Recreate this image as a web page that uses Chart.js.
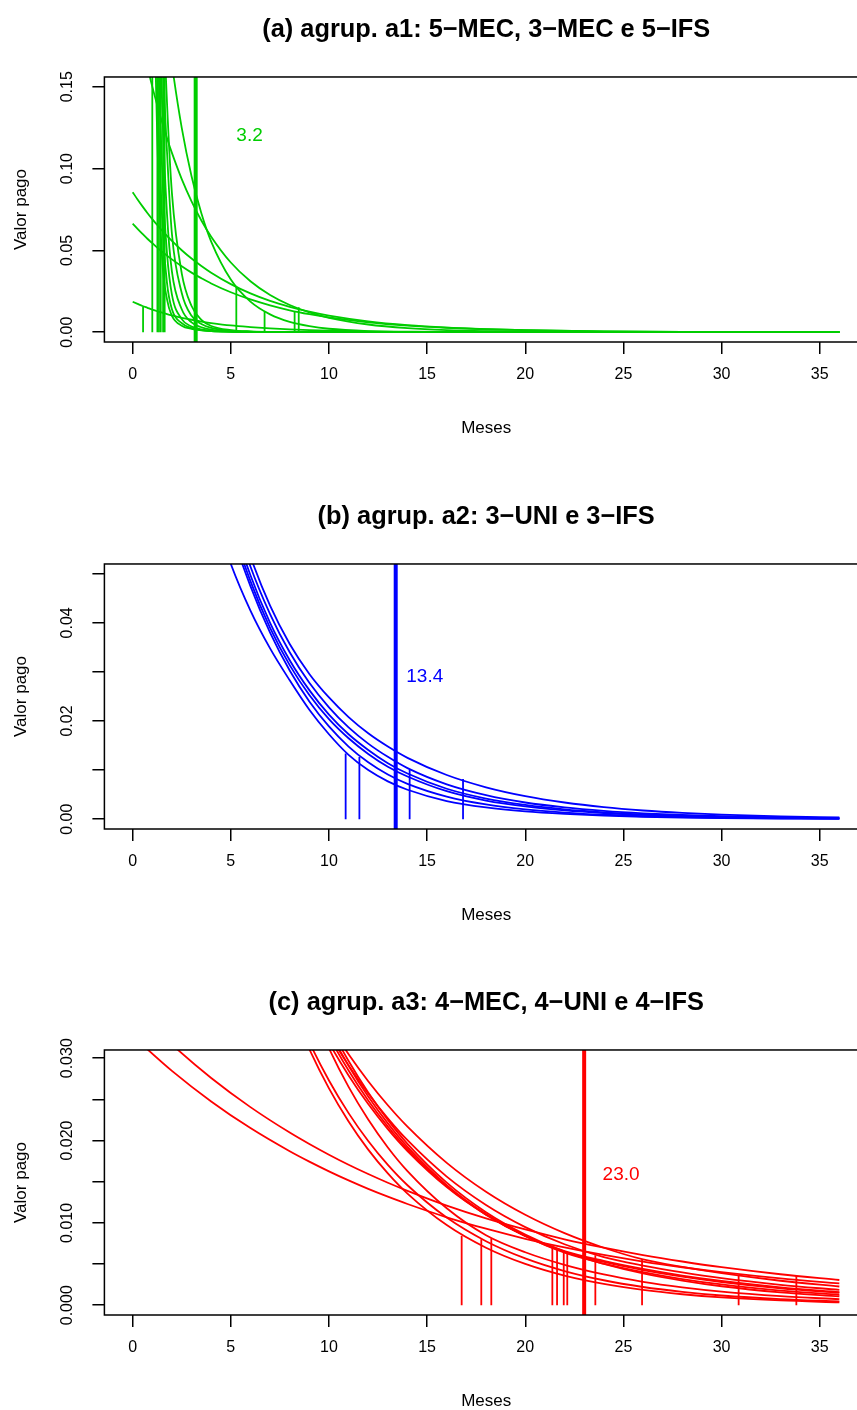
<!DOCTYPE html>
<html>
<head>
<meta charset="utf-8">
<script src="https://cdn.jsdelivr.net/npm/chart.js@4.4.1/dist/chart.umd.min.js"></script>
<style>
  html, body { margin: 0; padding: 0; background: #fff; }
  body { width: 857px; height: 1410px; overflow: hidden; position: relative; }
  .painel { position: absolute; left: 0; width: 868px; height: 440px; }
</style>
</head>
<body>
<div class="painel" style="top:0px"><canvas id="graf-a" width="868" height="440"></canvas></div>
<div class="painel" style="top:487px"><canvas id="graf-b" width="868" height="440"></canvas></div>
<div class="painel" style="top:973px"><canvas id="graf-c" width="868" height="440"></canvas></div>
<script>
// eixo x comum
const xTicks = [0, 5, 10, 15, 20, 25, 30, 35];

// (a) agrup. a1 - verde
const mesesA = [0, 0.25, 0.5, 0.75, 1, 1.25, 1.5, 1.75, 2, 2.5, 3, 3.5, 4, 5, 6, 7, 8, 9, 10, 12, 14, 16, 18, 20, 24, 28, 32, 36];
const curvasA = [
  [0.0856, 0.0811, 0.0769, 0.0729, 0.0691, 0.0655, 0.0621, 0.0589, 0.0558, 0.0501, 0.0450, 0.0405, 0.0364, 0.0294, 0.0237, 0.0191, 0.0155, 0.0125, 0.0101, 0.0066, 0.0043, 0.0028, 0.0018, 0.0012, 0.0005, 0.0002, 0.0001, 0.00005],
  [0.0664, 0.0632, 0.0601, 0.0571, 0.0544, 0.0517, 0.0492, 0.0468, 0.0445, 0.0403, 0.0364, 0.0330, 0.0298, 0.0244, 0.0200, 0.0164, 0.0134, 0.0110, 0.0090, 0.0060, 0.0040, 0.0027, 0.0018, 0.0012, 0.0005, 0.0002, 0.0001, 0.00005],
  [0.0186, 0.0173, 0.0160, 0.0149, 0.0138, 0.0128, 0.0119, 0.0110, 0.0102, 0.0088, 0.0076, 0.0065, 0.0056, 0.0041, 0.0031, 0.0023, 0.0017, 0.0012, 0.0009, 0.0005, 0.0003, 0.00015, 0.0001, 0.00005, 0, 0, 0, 0],
  [null, null, null, null, null, 0.246, 0.2148, 0.1876, 0.1638, 0.1249, 0.0953, 0.0727, 0.0554, 0.0322, 0.0187, 0.0109, 0.0063, 0.0037, 0.0021, 0.0007, 0.0002, 0.0001, 0, 0, 0, 0, 0, 0],
  [null, 0.19, 0.1757, 0.1624, 0.1501, 0.1388, 0.1283, 0.1186, 0.1096, 0.0936, 0.0800, 0.0683, 0.0584, 0.0426, 0.0311, 0.0227, 0.0166, 0.0121, 0.0088, 0.0047, 0.0025, 0.0013, 0.0007, 0.0004, 0.0001, 0, 0, 0],
  [null, null, null, null, 0.25, 0.12, 0.045, 0.02, 0.01, 0.004, 0.002, 0.0011, 0.0006, 0.0002, 0.0001, 0, 0, 0, 0, 0, 0, 0, 0, 0, 0, 0, 0, 0],
  [null, null, null, null, 0.35, 0.156, 0.07, 0.03, 0.014, 0.0055, 0.0025, 0.0013, 0.0007, 0.0003, 0.0001, 0, 0, 0, 0, 0, 0, 0, 0, 0, 0, 0, 0, 0],
  [null, null, null, null, 0.4, 0.2, 0.1, 0.048, 0.023, 0.008, 0.0035, 0.0017, 0.0009, 0.0003, 0.0001, 0, 0, 0, 0, 0, 0, 0, 0, 0, 0, 0, 0, 0],
  [null, null, null, null, 0.45, 0.25, 0.14, 0.072, 0.037, 0.014, 0.006, 0.003, 0.0015, 0.0005, 0.0002, 0.0001, 0, 0, 0, 0, 0, 0, 0, 0, 0, 0, 0, 0],
  [null, null, null, null, 0.5, 0.3, 0.18, 0.11, 0.06, 0.024, 0.01, 0.005, 0.0027, 0.001, 0.0004, 0.0002, 0.0001, 0, 0, 0, 0, 0, 0, 0, 0, 0, 0, 0],
  [null, null, null, null, null, 0.35, 0.22, 0.14, 0.085, 0.036, 0.016, 0.0075, 0.0038, 0.0013, 0.0005, 0.0002, 0.0001, 0, 0, 0, 0, 0, 0, 0, 0, 0, 0, 0]
];
const mediasA = [0.53, 1.0, 1.26, 1.34, 1.43, 1.55, 1.63, 5.28, 6.72, 8.25, 8.46];
const alturasA = [0.0155, 0.3, 0.3, 0.3, 0.3, 0.3, 0.3, 0.0277, 0.0125, 0.0128, 0.0153];
const mediaGeralA = 3.21;
const yTicksA = [0, 0.05, 0.10, 0.15];
const yRotulosA = ['0.00', '0.05', '0.10', '0.15'];

// (b) agrup. a2 - azul
const mesesB = [4, 5, 6, 7, 8, 9, 10, 11, 12, 13, 14, 16, 18, 20, 22, 24, 26, 28, 30, 33, 36];
const curvasB = [
  [0.082, 0.066, 0.0535, 0.0435, 0.0357, 0.0296, 0.0248, 0.0208, 0.0175, 0.0148, 0.0125, 0.0090, 0.0065, 0.0047, 0.0034, 0.00245, 0.00177, 0.00128, 0.00093, 0.00057, 0.00035],
  [0.079, 0.064, 0.0515, 0.0418, 0.0340, 0.0278, 0.0228, 0.0187, 0.0154, 0.0127, 0.0104, 0.0071, 0.0049, 0.0034, 0.0024, 0.0017, 0.0012, 0.00085, 0.0006, 0.00036, 0.00022],
  [0.078, 0.062, 0.0497, 0.0400, 0.0324, 0.0263, 0.0213, 0.0173, 0.0141, 0.0114, 0.0093, 0.0062, 0.0042, 0.0029, 0.0020, 0.0014, 0.00095, 0.00066, 0.00046, 0.00027, 0.00016],
  [0.077, 0.0605, 0.0485, 0.0390, 0.0314, 0.0253, 0.0204, 0.0165, 0.0133, 0.0107, 0.0087, 0.0057, 0.0038, 0.0026, 0.0018, 0.00125, 0.00086, 0.0006, 0.00042, 0.00025, 0.00015],
  [0.074, 0.059, 0.0475, 0.0380, 0.0303, 0.0240, 0.0189, 0.0148, 0.0116, 0.0091, 0.0072, 0.0046, 0.0030, 0.0020, 0.00135, 0.0009, 0.0006, 0.0004, 0.00027, 0.00016, 0.0001],
  [0.064, 0.052, 0.0425, 0.0348, 0.0283, 0.0223, 0.0173, 0.0131, 0.0100, 0.0077, 0.0060, 0.0037, 0.0024, 0.0016, 0.0011, 0.00075, 0.0005, 0.00034, 0.00023, 0.00013, 0.00008]
];
const mediasB = [10.85, 11.55, 13.4, 14.11, 16.83];
const alturasB = [0.01337, 0.01268, 0.0103, 0.0101, 0.00818];
const mediaGeralB = 13.4;
const yTicksB = [0, 0.01, 0.02, 0.03, 0.04, 0.05];
const yRotulosB = ['0.00', '', '0.02', '', '0.04', ''];

// (c) agrup. a3 - vermelho
const mesesC = [0, 2, 4, 6, 8, 9, 10, 11, 12, 13, 14, 16, 18, 20, 22, 24, 26, 28, 30, 33, 36];
const curvasC = [
  [0.0327, 0.02846, 0.02475, 0.02151, 0.01870, 0.01744, 0.01626, 0.01516, 0.01413, 0.01318, 0.01229, 0.01068, 0.00929, 0.00807, 0.00702, 0.00610, 0.00530, 0.00461, 0.00401, 0.00325, 0.00264],
  [0.0363, 0.03167, 0.02760, 0.02406, 0.02097, 0.01958, 0.01828, 0.01706, 0.01593, 0.01487, 0.01389, 0.01210, 0.01055, 0.00920, 0.00801, 0.00699, 0.00609, 0.00531, 0.00462, 0.00376, 0.00306],
  [null, null, null, null, 0.0367, 0.0311, 0.02634, 0.02232, 0.01890, 0.01601, 0.01356, 0.00973, 0.00698, 0.00501, 0.00359, 0.00258, 0.00185, 0.00133, 0.00095, 0.00058, 0.00035],
  [null, null, null, null, 0.03737, 0.03194, 0.02730, 0.02333, 0.01994, 0.01704, 0.01457, 0.01064, 0.00777, 0.00568, 0.00415, 0.00303, 0.00221, 0.00162, 0.00118, 0.00074, 0.00046],
  [null, null, null, null, 0.0432, 0.0367, 0.0312, 0.02652, 0.02255, 0.01916, 0.01629, 0.01177, 0.00850, 0.00643, 0.00490, 0.00373, 0.00284, 0.00217, 0.00165, 0.00110, 0.00073],
  [null, null, null, null, null, 0.03641, 0.03188, 0.02791, 0.02443, 0.02139, 0.01873, 0.01435, 0.01100, 0.00843, 0.00658, 0.00538, 0.00440, 0.00359, 0.00294, 0.00217, 0.00160],
  [null, null, null, null, null, 0.03740, 0.03265, 0.02850, 0.02487, 0.02171, 0.01895, 0.01444, 0.01100, 0.00838, 0.00647, 0.00525, 0.00427, 0.00347, 0.00282, 0.00206, 0.00151],
  [null, null, null, null, null, 0.03834, 0.03340, 0.02909, 0.02534, 0.02208, 0.01923, 0.01459, 0.01107, 0.00840, 0.00637, 0.00505, 0.00401, 0.00318, 0.00252, 0.00178, 0.00126],
  [null, null, null, null, null, 0.03909, 0.03405, 0.02966, 0.02584, 0.02251, 0.01960, 0.01488, 0.01129, 0.00857, 0.00650, 0.00503, 0.00387, 0.00299, 0.00230, 0.00156, 0.00106],
  [null, null, null, null, null, 0.03737, 0.03299, 0.02913, 0.02572, 0.02270, 0.02004, 0.01562, 0.01218, 0.00949, 0.00740, 0.00584, 0.00482, 0.00399, 0.00329, 0.00248, 0.00186],
  [null, null, null, null, null, 0.03824, 0.03414, 0.03048, 0.02721, 0.02429, 0.02169, 0.01729, 0.01378, 0.01098, 0.00875, 0.00698, 0.00556, 0.00465, 0.00389, 0.00297, 0.00227]
];
const mediasC = [16.76, 17.76, 18.27, 21.38, 21.62, 21.96, 22.14, 23.57, 25.95, 30.87, 33.81];
const alturasC = [0.00843, 0.00802, 0.00814, 0.00701, 0.00673, 0.0064, 0.0064, 0.00608, 0.00559, 0.00365, 0.00356];
const mediaGeralC = 23.0;
const yTicksC = [0, 0.005, 0.010, 0.015, 0.020, 0.025, 0.030];
const yRotulosC = ['0.000', '', '0.010', '', '0.020', '', '0.030'];

const FONTE = '"Liberation Sans", Arial, Helvetica, sans-serif';

// caixa do grafico, rotulos do eixo y (girados como no R) e texto da media
const extras = {
  id: 'extras',
  afterDraw(chart, args, opts) {
    const { ctx, chartArea: a, scales: { x, y } } = chart;
    ctx.save();
    ctx.strokeStyle = '#000';
    ctx.lineWidth = 1.5;
    ctx.strokeRect(a.left, a.top, a.right - a.left, a.bottom - a.top);

    ctx.fillStyle = '#000';
    ctx.font = '16px ' + FONTE;
    ctx.textAlign = 'center';
    ctx.textBaseline = 'middle';
    opts.yRotulos.forEach((t, i) => {
      if (!t) return;
      ctx.save();
      ctx.translate(68, y.getPixelForValue(opts.yTicks[i]));
      ctx.rotate(-Math.PI / 2);
      ctx.fillText(t, 0, 0);
      ctx.restore();
    });

    ctx.fillStyle = opts.cor;
    ctx.font = '19px ' + FONTE;
    ctx.textAlign = 'left';
    ctx.fillText(opts.texto, x.getPixelForValue(opts.textoX), y.getPixelForValue(opts.textoY));
    ctx.restore();
  }
};

function painel(id, titulo, cor, meses, curvas, medias, alturas, mediaGeral, yMin, yMax, yTicks, yRotulos, texto, textoX, textoY) {
  const datasets = [];
  curvas.forEach(c => {
    datasets.push({
      data: meses.map((m, i) => ({ x: m, y: c[i] })),
      borderColor: cor, borderWidth: 1.8, pointRadius: 0,
      cubicInterpolationMode: 'monotone', spanGaps: false
    });
  });
  medias.forEach((m, i) => {
    datasets.push({
      data: [{ x: m, y: 0 }, { x: m, y: alturas[i] }],
      borderColor: cor, borderWidth: 1.8, pointRadius: 0
    });
  });
  datasets.push({
    data: [{ x: mediaGeral, y: yMin }, { x: mediaGeral, y: yMax }],
    borderColor: cor, borderWidth: 4, pointRadius: 0
  });

  new Chart(document.getElementById(id), {
    type: 'line',
    data: { datasets },
    options: {
      responsive: false,
      animation: false,
      devicePixelRatio: 1,
      layout: { padding: 0 },
      plugins: {
        legend: { display: false },
        tooltip: { enabled: false },
        title: {
          display: true, text: titulo, color: '#000', fullSize: false,
          font: { family: FONTE, size: 25.4, weight: 'bold', lineHeight: 1.2 },
          padding: { top: 15, bottom: 31.5 }
        },
        extras: { cor, yTicks, yRotulos, texto, textoX, textoY }
      },
      scales: {
        x: {
          type: 'linear', min: -1.44, max: 37.46,
          afterBuildTicks: s => { s.ticks = xTicks.map(v => ({ value: v })); },
          afterFit: s => { s.height = 98; },
          border: { display: false },
          grid: { drawOnChartArea: false, drawTicks: true, tickLength: 12, color: '#000', lineWidth: 1.5 },
          ticks: { color: '#000', padding: 11, maxRotation: 0, font: { family: FONTE, size: 16 } },
          title: { display: true, text: 'Meses', color: '#000', font: { family: FONTE, size: 17 }, padding: { top: 0, bottom: 1 } }
        },
        y: {
          type: 'linear', min: yMin, max: yMax,
          afterBuildTicks: s => { s.ticks = yTicks.map(v => ({ value: v })); },
          afterFit: s => { s.width = 104.4; },
          border: { display: false },
          grid: { drawOnChartArea: false, drawTicks: true, tickLength: 12, color: '#000', lineWidth: 1.5 },
          ticks: { display: false },
          title: { display: true, text: 'Valor pago', color: '#000', font: { family: FONTE, size: 17 }, padding: { top: 11, bottom: 0 } }
        }
      }
    },
    plugins: [extras]
  });
}

painel('graf-a', '(a) agrup. a1: 5\u2212MEC, 3\u2212MEC e 5\u2212IFS', '#00cd00',
  mesesA, curvasA, mediasA, alturasA, mediaGeralA, -0.006, 0.156, yTicksA, yRotulosA, '3.2', 5.28, 0.12);
painel('graf-b', '(b) agrup. a2: 3\u2212UNI e 3\u2212IFS', '#0000ff',
  mesesB, curvasB, mediasB, alturasB, mediaGeralB, -0.002, 0.052, yTicksB, yRotulosB, '13.4', 13.94, 0.029);
painel('graf-c', '(c) agrup. a3: 4\u2212MEC, 4\u2212UNI e 4\u2212IFS', '#ff0000',
  mesesC, curvasC, mediasC, alturasC, mediaGeralC, -0.00119, 0.031, yTicksC, yRotulosC, '23.0', 23.94, 0.0159);
</script>
</body>
</html>
